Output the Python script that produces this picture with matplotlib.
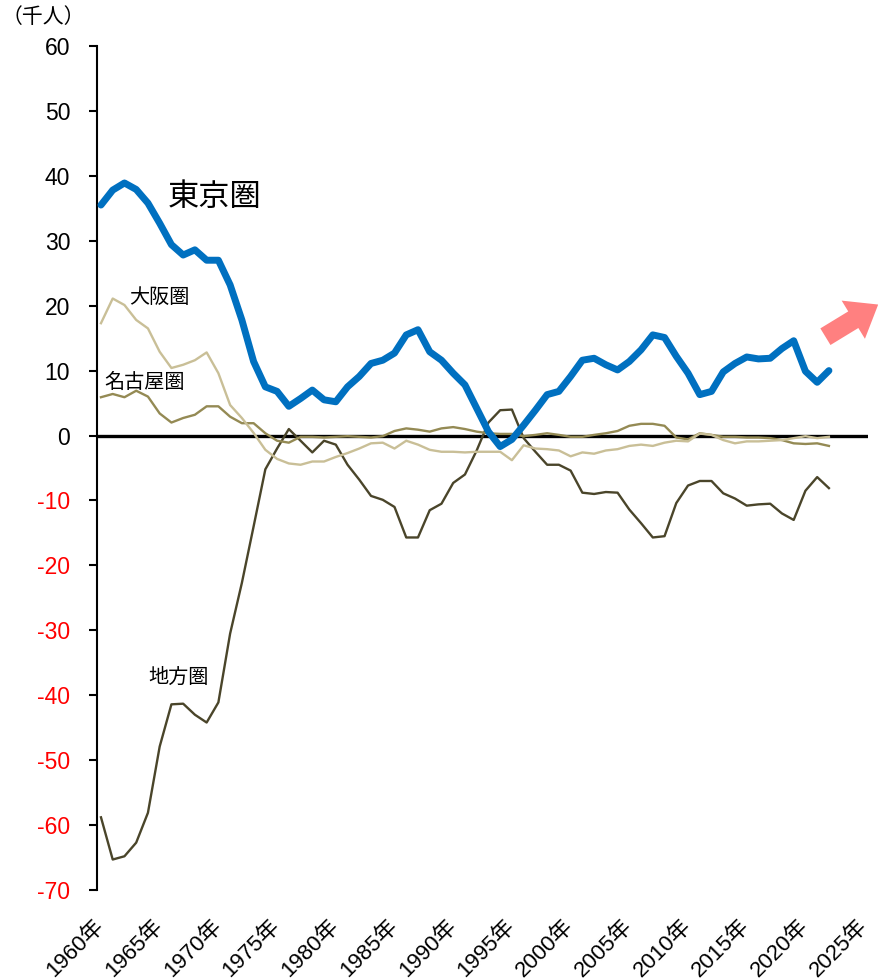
import matplotlib
matplotlib.use("Agg")
import matplotlib.pyplot as plt
import numpy as np
from matplotlib.patches import FancyArrowPatch


# net migration by area, 1960-2022
years = np.arange(1960, 2023)

tokyo = [
    35.5, 37.8, 38.9, 37.9, 35.8, 32.7, 29.4, 27.8, 28.6, 27.0,
    27.0, 23.2, 17.8, 11.4, 7.5, 6.8, 4.5, 5.7, 7.0, 5.5,
    5.2, 7.5, 9.1, 11.1, 11.6, 12.7, 15.5, 16.3, 12.9, 11.6,
    9.6, 7.8, 4.2, 0.6, -1.7, -0.6, 1.6, 3.9, 6.3, 6.8,
    9.1, 11.6, 11.9, 10.9, 10.1, 11.4, 13.2, 15.5, 15.1, 12.2,
    9.6, 6.3, 6.8, 9.8, 11.1, 12.1, 11.8, 11.9, 13.4, 14.6,
    9.9, 8.2, 10.0,
]
osaka = [
    17.3, 21.1, 20.1, 17.8, 16.5, 12.9, 10.4, 10.9, 11.6, 12.8,
    9.6, 4.7, 2.7, 0.4, -2.2, -3.6, -4.3, -4.5, -4.0, -4.0,
    -3.3, -2.7, -2.0, -1.2, -1.1, -2.0, -0.8, -1.4, -2.2, -2.5,
    -2.5, -2.6, -2.5, -2.5, -2.5, -3.8, -1.5, -2.0, -2.1, -2.3,
    -3.2, -2.6, -2.8, -2.3, -2.1, -1.6, -1.4, -1.6, -1.1, -0.8,
    -0.9, 0.3, 0.1, -0.7, -1.2, -0.9, -0.9, -0.8, -0.7, -0.4,
    -0.1, -0.4, -0.2,
]
nagoya = [
    5.9, 6.4, 5.9, 6.9, 6.0, 3.4, 2.0, 2.7, 3.2, 4.5,
    4.5, 2.9, 1.9, 1.9, 0.35, -0.8, -1.1, -0.2, -0.2, -0.3,
    -0.2, -0.1, -0.2, -0.3, -0.1, 0.7, 1.1, 0.9, 0.6, 1.1,
    1.3, 1.0, 0.6, 0.35, 0.25, 0.25, -0.1, 0.1, 0.35, 0.1,
    -0.2, -0.2, 0.1, 0.35, 0.7, 1.5, 1.8, 1.8, 1.5, -0.3,
    -0.6, 0.35, 0.1, -0.2, -0.2, -0.3, -0.3, -0.4, -0.7, -1.2,
    -1.3, -1.2, -1.6,
]
chihou = [
    -58.8, -65.3, -64.8, -62.7, -58.1, -47.9, -41.4, -41.3, -43.0, -44.2,
    -41.1, -30.5, -22.7, -14.0, -5.2, -2.0, 1.0, -0.8, -2.6, -0.8,
    -1.4, -4.5, -6.8, -9.3, -9.9, -11.0, -15.7, -15.7, -11.5, -10.5,
    -7.3, -6.0, -2.3, 2.0, 3.9, 4.0, -0.4, -2.5, -4.5, -4.5,
    -5.4, -8.8, -9.0, -8.7, -8.8, -11.4, -13.5, -15.7, -15.5, -10.4,
    -7.7, -7.0, -7.0, -8.9, -9.7, -10.8, -10.6, -10.5, -12.0, -13.0,
    -8.5, -6.4, -8.1,
]

x_ticks = list(range(1960, 2026, 5))
x_tick_labels = [f"{y}年" for y in x_ticks]
y_ticks = list(range(-70, 61, 10))

FONT = ["Liberation Sans", "Noto Sans CJK JP", "DejaVu Sans"]
JP = ["Noto Sans CJK JP", "DejaVu Sans"]
plt.rcParams["font.family"] = FONT

fig = plt.figure(figsize=(8.79, 9.8), dpi=100)
ax = fig.add_axes([0.1098, 0.0918, 0.9875 - 0.1098, 0.9531 - 0.0918])

ax.axhline(0, color="black", linewidth=2.4, zorder=1)
ax.plot(years, chihou, color="#4a452a", linewidth=1.7, zorder=2)
ax.plot(years, nagoya, color="#948a54", linewidth=1.7, zorder=3)
ax.plot(years, osaka, color="#c9bf97", linewidth=1.7, zorder=3)
ax.plot(years, tokyo, color="#0070c0", linewidth=5.0, solid_capstyle="round",
        solid_joinstyle="round", zorder=4)

ax.text(1969.7, 36.8, "東京圏", fontsize=22.5, ha="center", va="center", family=JP)
ax.text(1965.0, 21.3, "大阪圏", fontsize=14.5, ha="center", va="center", family=JP)
ax.text(1963.7, 8.1, "名古屋圏", fontsize=14.5, ha="center", va="center", family=JP)
ax.text(1966.6, -37.2, "地方圏", fontsize=14.5, ha="center", va="center", family=JP)

arrow = FancyArrowPatch(
    (2021.5, 15.0), (2026.4, 20.4),
    arrowstyle="simple,head_length=1.5,head_width=2.3,tail_width=1.0",
    mutation_scale=14, color="#ff8080", linewidth=0, clip_on=False, zorder=5,
)
ax.add_patch(arrow)

ax.set_xlim(1959.62, 2025.33)
ax.set_ylim(-70, 60)

ax.set_xticks(x_ticks)
ax.set_xticklabels(x_tick_labels, rotation=45, ha="right", va="center",
                   rotation_mode="anchor", fontsize=16)
ax.tick_params(axis="x", length=0, pad=24)

ax.set_yticks(y_ticks)
ax.set_yticklabels([str(v) for v in y_ticks], fontsize=16.5)
for lbl, v in zip(ax.get_yticklabels(), y_ticks):
    lbl.set_color("#ff0000" if v < 0 else "black")
ax.tick_params(axis="y", direction="out", length=6, width=1.5, pad=13)

for side in ["top", "right", "bottom"]:
    ax.spines[side].set_visible(False)
ax.spines["left"].set_linewidth(1.5)

fig.text(0.002, 1 - 17 / 980, "（千人）", fontsize=15, ha="left", va="center",
         family=JP)

fig.savefig("out.png", dpi=100)
